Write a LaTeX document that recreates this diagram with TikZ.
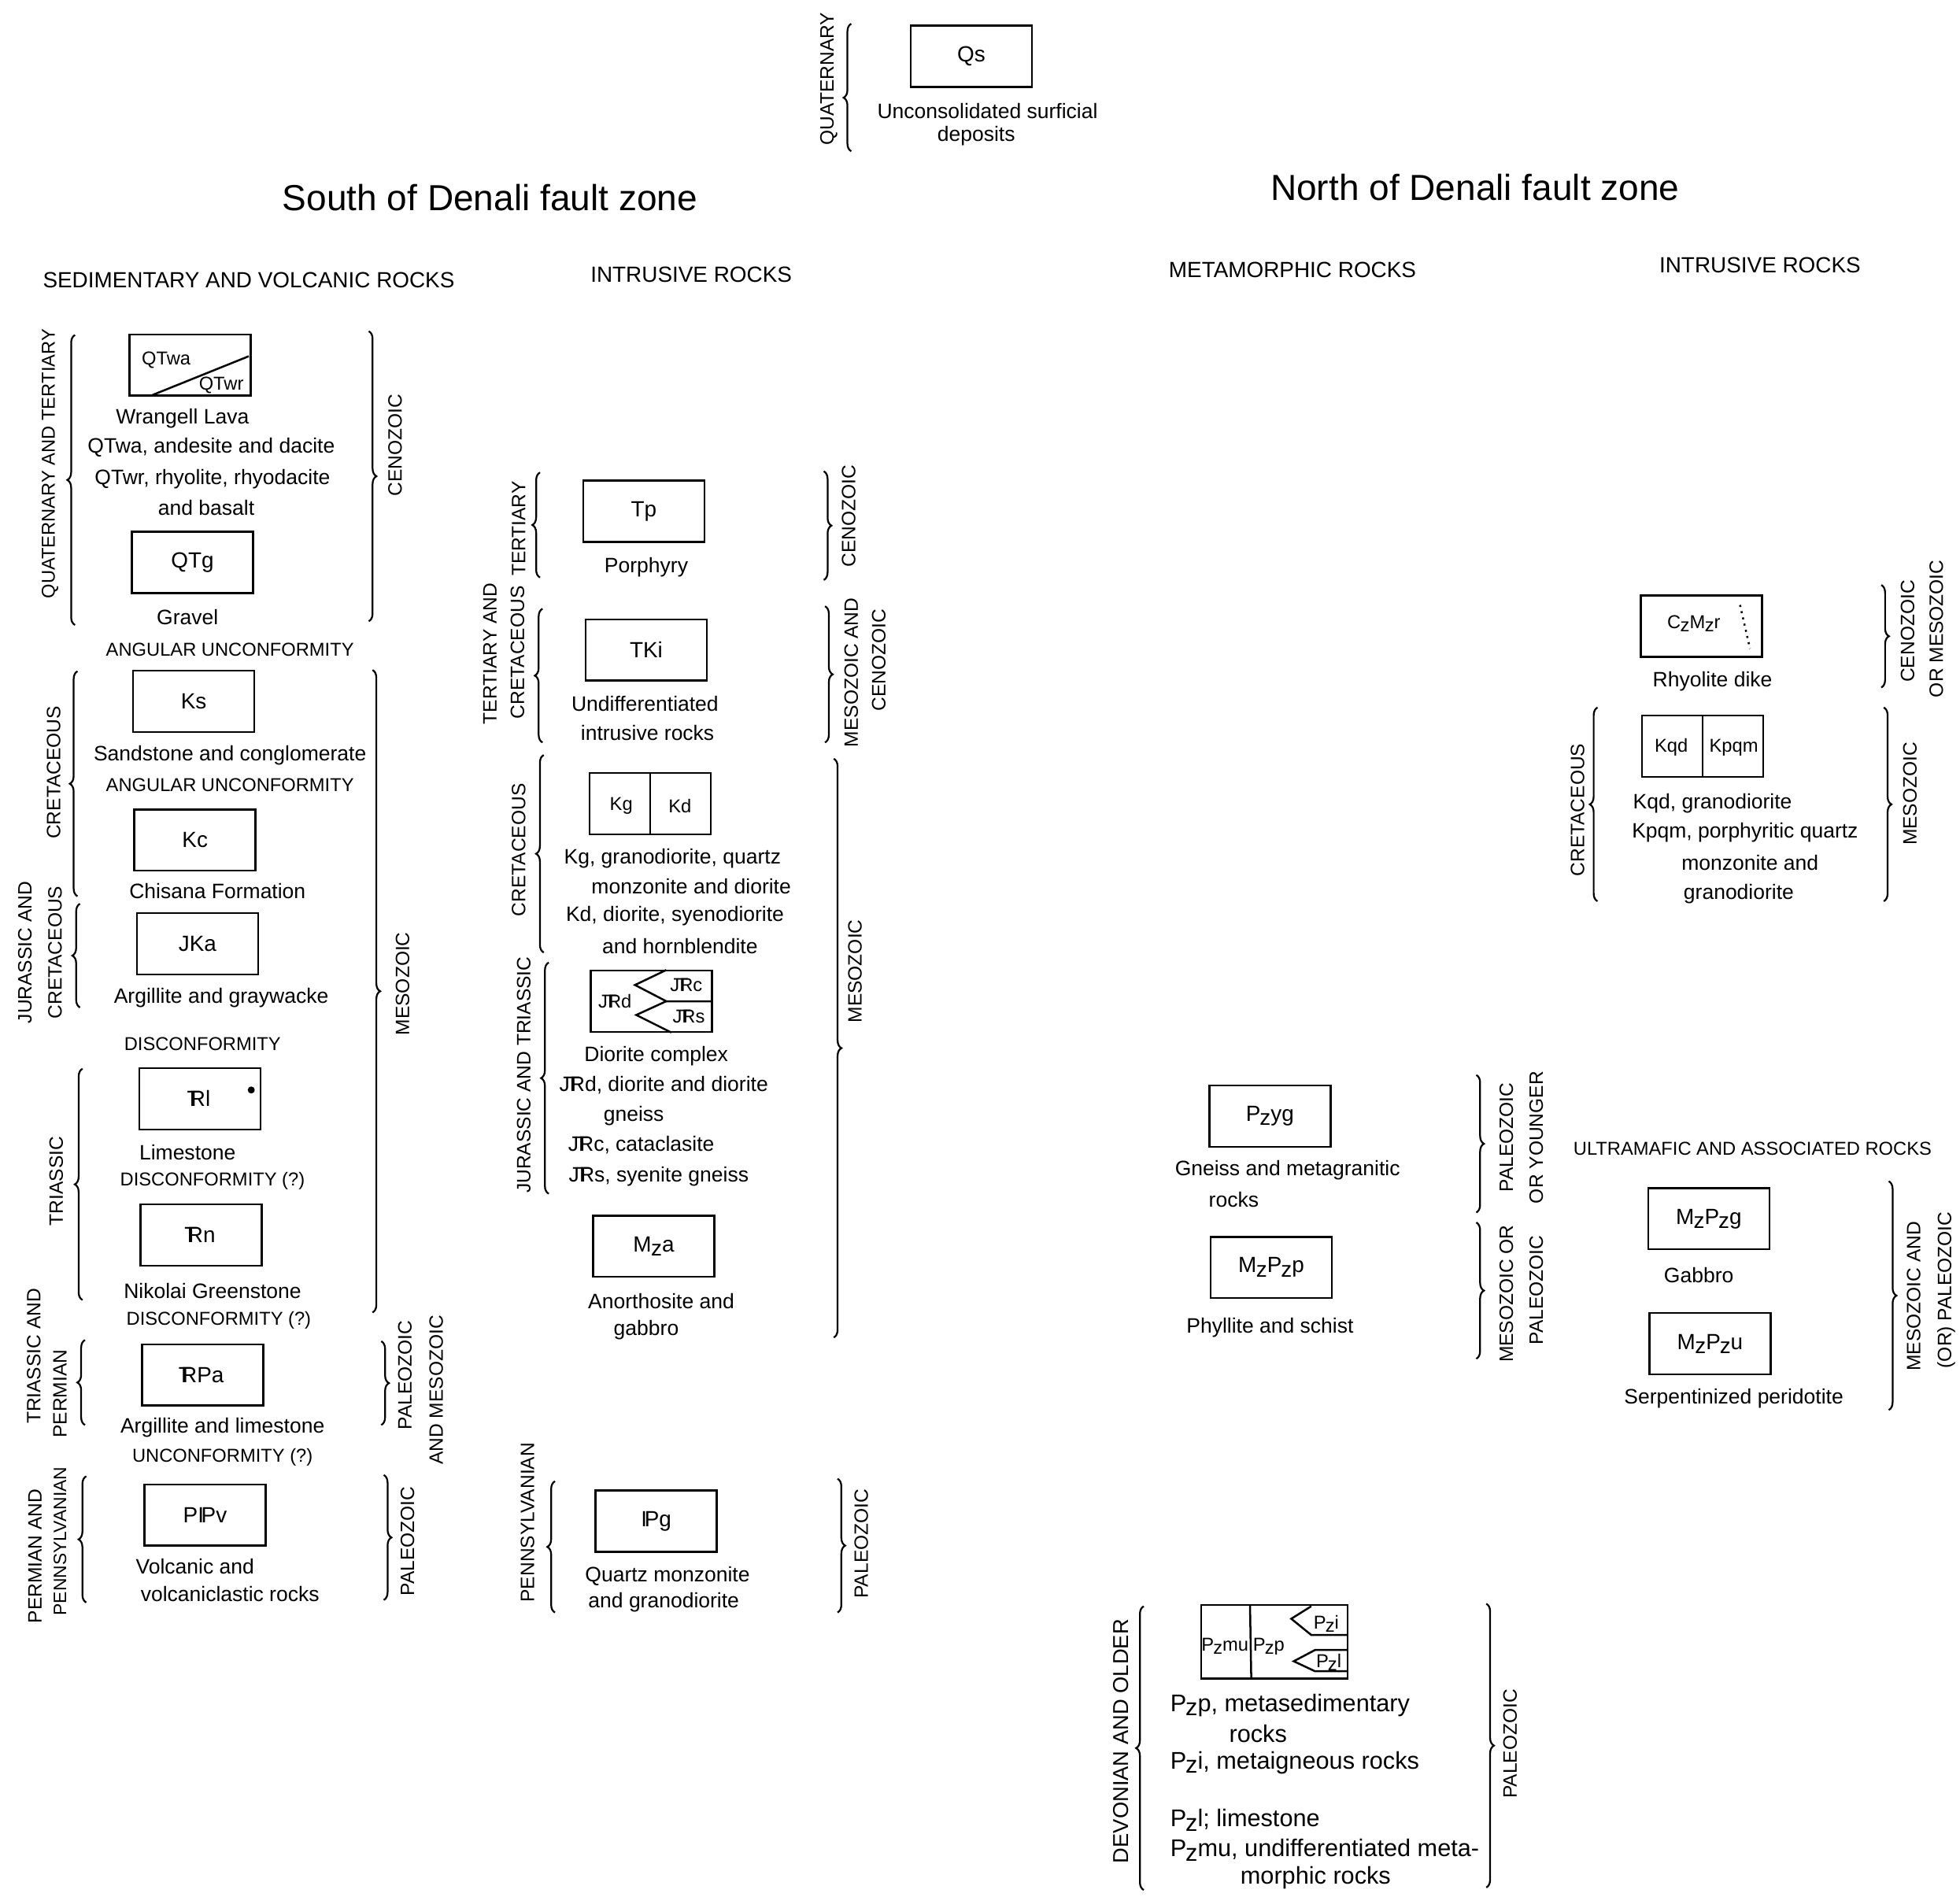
\documentclass[tikz,border=0pt]{standalone}
\usepackage{fontspec}
\setmainfont{Liberation Sans}
\usetikzlibrary{decorations.pathreplacing}
\newcommand{\Pzs}{P\kern-.04em\raisebox{-.35ex}{z}}
\newcommand{\Mzs}{M\kern-.02em\raisebox{-.35ex}{z}}
\newcommand{\Czs}{C\kern-.02em\raisebox{-.35ex}{z}}
\newcommand{\TRsym}{\makebox[0pt][l]{\kern-.12em T}R}
\newcommand{\PNsym}{I\kern-.12em P}

\begin{document}
\begin{tikzpicture}[x=0.02cm,y=-0.02cm,
  unitbox/.style={draw,line width=0.9pt,minimum width=1.94cm,minimum height=0.98cm,inner sep=0pt,outer sep=0pt,font=\fontsize{10}{12}\selectfont},
  txt/.style={font=\fontsize{9.5}{11}\selectfont,inner sep=0pt},
  bigtxt/.style={font=\fontsize{11}{13}\selectfont,inner sep=0pt},
  capline/.style={font=\fontsize{8.5}{10}\selectfont,inner sep=0pt},
  agelabel/.style={rotate=90,font=\fontsize{8.8}{10}\selectfont,inner sep=0pt},
  headline/.style={font=\fontsize{10}{12}\selectfont,inner sep=0pt},
  zonetitle/.style={font=\fontsize{16.5}{20}\selectfont,inner sep=0pt},
  symlabel/.style={font=\fontsize{8.5}{10}\selectfont,inner sep=0pt},
  brc/.style={decorate,decoration={brace,amplitude=3.5pt},line width=0.8pt}]
\useasboundingbox (0,0) rectangle (1568,1517);

\node[agelabel] (quat) at (663,63) {QUATERNARY};
\draw[brc,decoration={aspect=0.42}] (681,121) -- (681,19);
\node[unitbox] (qs) at (777,45) {Qs};
\node[txt] (qsa) at (790,89) {Unconsolidated surficial};
\node[txt] (qsb) at (781,109) {deposits};

\node[zonetitle] (south) at (392,158) {South of Denali fault zone};
\node[zonetitle] (north) at (1180,150) {North of Denali fault zone};
\node[headline] (sedv) at (199,224) {SEDIMENTARY AND VOLCANIC ROCKS};
\node[headline] (ints) at (553,220) {INTRUSIVE ROCKS};
\node[headline] (meta) at (1034,216) {METAMORPHIC ROCKS};
\node[headline] (intn) at (1408,212) {INTRUSIVE ROCKS};

% sedimentary and volcanic rocks
\node[agelabel,font=\fontsize{8.5}{10}\selectfont] (qt) at (40,371) {QUATERNARY AND TERTIARY};
\draw[brc] (60,500) -- (60,268);
\node[unitbox] (qtw) at (152,292) {};
\draw[line width=0.9pt] (122,316) -- (199,285);
\node[symlabel] (qtwa) at (133,288) {QTwa};
\node[symlabel] (qtwr) at (177,308) {QTwr};
\node[txt] (wl) at (146,335) {Wrangell Lava};
\node[txt] (wla) at (169,358) {QTwa, andesite and dacite};
\node[txt] (wlb) at (170,383) {QTwr, rhyolite, rhyodacite};
\node[txt] (wlc) at (165,406) {and basalt};
\node[unitbox] (qtg) at (154,450) {QTg};
\node[txt] (qtgd) at (150,494) {Gravel};
\draw[brc] (295,265) -- (295,497);
\node[agelabel] (cen1) at (316,356) {CENOZOIC};
\node[capline] (au1) at (184,520) {ANGULAR UNCONFORMITY};

\node[agelabel] (kr1) at (43,618) {CRETACEOUS};
\draw[brc] (62,717) -- (62,537);
\node[unitbox] (ks) at (155,561) {Ks};
\node[txt] (ksd) at (184,604) {Sandstone and conglomerate};
\node[capline] (au2) at (184,628) {ANGULAR UNCONFORMITY};
\node[unitbox] (kc) at (156,672) {Kc};
\node[txt] (kcd) at (174,713) {Chisana Formation};
\node[agelabel] (jk1) at (20,762) {JURASSIC AND};
\node[agelabel] (jk2) at (44,762) {CRETACEOUS};
\draw[brc] (64,806) -- (64,723);
\node[unitbox] (jka) at (158,755) {JKa};
\node[txt] (jkad) at (177,798) {Argillite and graywacke};
\node[capline] (dc1) at (162,835) {DISCONFORMITY};
\draw[brc] (298,536) -- (298,1050);
\node[agelabel] (mes1) at (322,787) {MESOZOIC};

\node[agelabel] (tr1) at (45,945) {TRIASSIC};
\draw[brc] (66,1040) -- (66,855);
\node[unitbox] (trl) at (160,879) {\TRsym l};
\fill (201,872) circle (1.6pt);
\node[txt] (trld) at (150,922) {Limestone};
\node[capline] (dc2) at (170,945) {DISCONFORMITY (?)};
\node[unitbox] (trn) at (161,988) {\TRsym n};
\node[txt] (trnd) at (170,1033) {Nikolai Greenstone};
\node[capline] (dc3) at (175,1056) {DISCONFORMITY (?)};

\node[agelabel] (tp1) at (27,1085) {TRIASSIC AND};
\node[agelabel] (tp2) at (48,1115) {PERMIAN};
\draw[brc] (68,1140) -- (68,1072);
\node[unitbox] (trpa) at (162,1100) {\TRsym Pa};
\node[txt] (trpad) at (178,1142) {Argillite and limestone};
\draw[brc] (305,1073) -- (305,1140);
\node[agelabel] (pm1) at (324,1100) {PALEOZOIC};
\node[agelabel] (pm2) at (349,1112) {AND MESOZOIC};
\node[capline] (uc1) at (178,1166) {UNCONFORMITY (?)};

\node[agelabel] (pp1) at (28,1245) {PERMIAN AND};
\node[agelabel,font=\fontsize{8.2}{10}\selectfont] (pp2) at (48,1233) {PENNSYLVANIAN};
\draw[brc] (69,1282) -- (69,1181);
\node[unitbox] (pipv) at (164,1212) {P\PNsym v};
\node[txt] (pipva) at (156,1253) {Volcanic and};
\node[txt] (pipvb) at (184,1275) {volcaniclastic rocks};
\draw[brc] (307,1180) -- (307,1280);
\node[agelabel] (pal1) at (326,1233) {PALEOZOIC};

% intrusive rocks, south
\node[agelabel] (te1) at (415,423) {TERTIARY};
\draw[brc] (432,462) -- (432,378);
\node[unitbox] (tp) at (515,409) {Tp};
\node[txt] (tpd) at (517,454) {Porphyry};
\draw[brc] (659,377) -- (659,464);
\node[agelabel] (cen2) at (679,413) {CENOZOIC};

\node[agelabel] (tk1) at (392,523) {TERTIARY AND};
\node[agelabel] (tk2) at (414,522) {CRETACEOUS};
\draw[brc] (434,594) -- (434,487);
\node[unitbox] (tki) at (517,520) {TKi};
\node[txt] (tkia) at (516,563) {Undifferentiated};
\node[txt] (tkib) at (518,586) {intrusive rocks};
\draw[brc] (660,485) -- (660,594);
\node[agelabel] (mc1) at (681,538) {MESOZOIC AND};
\node[agelabel] (mc2) at (703,528) {CENOZOIC};

\node[agelabel] (kr2) at (415,680) {CRETACEOUS};
\draw[brc] (435,762) -- (435,604);
\node[unitbox] (kgkd) at (520,643) {};
\draw[line width=0.9pt] (kgkd.north) -- (kgkd.south);
\node[symlabel] (kg) at (497,645) {Kg};
\node[symlabel] (kd) at (544,645) {Kd};
\node[txt] (kga) at (538,687) {Kg, granodiorite, quartz};
\node[txt] (kgb) at (553,709) {monzonite and diorite};
\node[txt] (kda) at (540,733) {Kd, diorite, syenodiorite};
\node[txt] (kdb) at (544,757) {and hornblendite};
\draw[brc] (667,607) -- (667,1070);
\node[agelabel] (mes2) at (684,777) {MESOZOIC};

\node[agelabel] (jr1) at (419,860) {JURASSIC AND TRIASSIC};
\draw[brc] (439,955) -- (439,770);
\node[unitbox] (jrd) at (521,801) {};
\draw[line width=0.9pt] (533,776) -- (508,788) -- (533,801) -- (570,801);
\draw[line width=0.9pt] (533,801) -- (509,812) -- (537,826);
\node[symlabel] (jrdl) at (492,801) {J\TRsym d};
\node[symlabel] (jrcl) at (549,788) {J\TRsym c};
\node[symlabel] (jrsl) at (551,813) {J\TRsym s};
\node[txt] (jra) at (525,845) {Diorite complex};
\node[txt] (jrb) at (531,868) {J\TRsym d, diorite and diorite};
\node[txt] (jrc) at (507,893) {gneiss};
\node[txt] (jrdd) at (513,916) {J\TRsym c, cataclasite};
\node[txt] (jre) at (527,941) {J\TRsym s, syenite gneiss};
\node[unitbox] (mza) at (523,997) {\Mzs a};
\node[txt] (mzaa) at (529,1041) {Anorthosite and};
\node[txt] (mzab) at (517,1064) {gabbro};

\node[agelabel] (pn1) at (422,1218) {PENNSYLVANIAN};
\draw[brc] (444,1290) -- (444,1185);
\node[unitbox] (ipg) at (525,1217) {\PNsym g};
\node[txt] (ipga) at (534,1261) {Quartz monzonite};
\node[txt] (ipgb) at (531,1282) {and granodiorite};
\draw[brc] (670,1183) -- (670,1290);
\node[agelabel] (pal2) at (689,1235) {PALEOZOIC};

% metamorphic rocks, north
\node[unitbox] (pzyg) at (1016,893) {\Pzs yg};
\node[txt] (pzyga) at (1030,936) {Gneiss and metagranitic};
\node[txt] (pzygb) at (987,960) {rocks};
\draw[brc] (1181,860) -- (1181,970);
\node[agelabel] (py1) at (1205,910) {PALEOZOIC};
\node[agelabel] (py2) at (1229,910) {OR YOUNGER};
\node[unitbox] (mzpzp) at (1017,1014) {\Mzs\Pzs p};
\node[txt] (mzpzpd) at (1016,1062) {Phyllite and schist};
\draw[brc] (1181,978) -- (1181,1087);
\node[agelabel] (mp1) at (1205,1035) {MESOZOIC OR};
\node[agelabel] (mp2) at (1229,1032) {PALEOZOIC};

\node[agelabel,font=\fontsize{9.8}{12}\selectfont] (dv1) at (897,1393) {DEVONIAN AND OLDER};
\draw[brc] (915,1512) -- (915,1285);
\node[draw,line width=0.9pt,minimum width=2.34cm,minimum height=1.18cm,inner sep=0pt,outer sep=0pt] (pzb) at (1019.5,1313.5) {};
\draw[line width=0.9pt] (1000,1284) -- (1001,1343);
\draw[line width=0.9pt] (1049,1285) -- (1033,1295) -- (1049,1308) -- (1078,1308);
\draw[line width=0.9pt] (1078,1320) -- (1052,1320) -- (1035,1329) -- (1052,1337) -- (1078,1337);
\node[symlabel] (pzmul) at (980,1317) {\Pzs mu};
\node[symlabel] (pzpl) at (1015,1317) {\Pzs p};
\node[symlabel] (pzil) at (1061,1299) {\Pzs i};
\node[symlabel] (pzll) at (1063,1330) {\Pzs l};
\node[bigtxt,anchor=west] (pza) at (936,1364) {\Pzs p, metasedimentary};
\node[bigtxt,anchor=west] (pzbb) at (983,1387) {rocks};
\node[bigtxt,anchor=west] (pzc) at (936,1410) {\Pzs i, metaigneous rocks};
\node[bigtxt,anchor=west] (pzd) at (936,1456) {\Pzs l; limestone};
\node[bigtxt,anchor=west] (pze) at (936,1480) {\Pzs mu, undifferentiated meta-};
\node[bigtxt,anchor=west] (pzf) at (992,1502) {morphic rocks};
\draw[brc] (1189,1283) -- (1189,1510);
\node[agelabel] (pal3) at (1208,1395) {PALEOZOIC};

% intrusive rocks, north
\node[unitbox] (czmzr) at (1361,501) {};
\node[symlabel] (czmzrl) at (1355,499) {\Czs\Mzs r};
\draw[dotted,line width=0.9pt] (1392,484) -- (1400,519);
\node[txt] (czmzrd) at (1370,545) {Rhyolite dike};
\draw[brc] (1505,468) -- (1505,550);
\node[agelabel] (cm1) at (1526,505) {CENOZOIC};
\node[agelabel] (cm2) at (1549,503) {OR MESOZOIC};

\node[agelabel] (kr3) at (1262,648) {CRETACEOUS};
\draw[brc] (1278,721) -- (1278,566);
\node[unitbox] (kqkp) at (1362,597) {};
\draw[line width=0.9pt] (kqkp.north) -- (kqkp.south);
\node[symlabel] (kqd) at (1337,598) {Kqd};
\node[symlabel] (kpqm) at (1387,598) {Kpqm};
\node[txt] (kqa) at (1370,643) {Kqd, granodiorite};
\node[txt] (kqb) at (1396,666) {Kpqm, porphyritic quartz};
\node[txt] (kqc) at (1400,690) {monzonite and};
\node[txt] (kqdd) at (1391,715) {granodiorite};
\draw[brc] (1507,566) -- (1507,721);
\node[agelabel] (mes3) at (1528,635) {MESOZOIC};

\node[capline] (ultra) at (1402,919) {ULTRAMAFIC AND ASSOCIATED ROCKS};
\node[unitbox] (mzpzg) at (1367,975) {\Mzs\Pzs g};
\node[txt] (mzpzgd) at (1359,1020) {Gabbro};
\node[unitbox] (mzpzu) at (1368,1075) {\Mzs\Pzs u};
\node[txt] (mzpzud) at (1387,1119) {Serpentinized peridotite};
\draw[brc] (1511,945) -- (1511,1128);
\node[agelabel] (mo1) at (1531,1037) {MESOZOIC AND};
\node[agelabel] (mo2) at (1557,1032) {(OR) PALEOZOIC};

\end{tikzpicture}
\end{document}
